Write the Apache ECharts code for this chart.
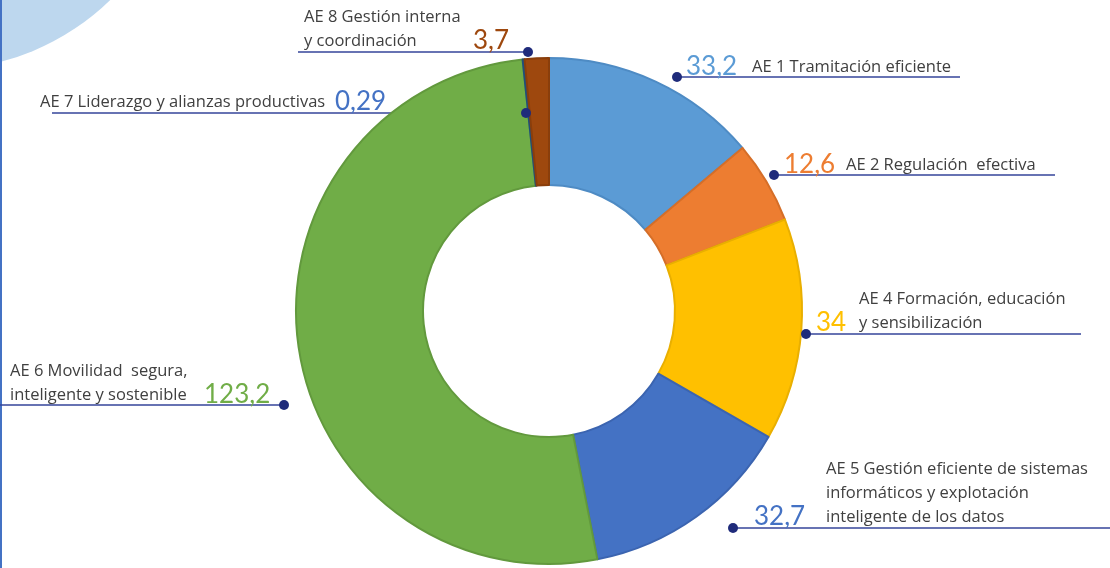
<!DOCTYPE html>
<html>
<head>
<meta charset="utf-8">
<script src="https://cdn.jsdelivr.net/npm/echarts@6/dist/echarts.min.js"></script>
<style>
  html, body { margin: 0; padding: 0; background: #fff; }
  #chartPie { width: 1110px; height: 568px; }
</style>
</head>
<body>
<div id="chartPie"></div>
<script>
    // datos del gráfico
    const categories = ['AE 1 Tramitación eficiente', 'AE 2 Regulación  efectiva', 'AE 4 Formación, educación y sensibilización',
        'AE 5 Gestión eficiente de sistemas informáticos y explotación inteligente de los datos',
        'AE 6 Movilidad  segura, inteligente y sostenible', 'AE 7 Liderazgo y alianzas productivas', 'AE 8 Gestión interna y coordinación'];
    const values = [33.2, 12.6, 34, 32.7, 123.2, 0.29, 3.7];
    // cómo se parte cada etiqueta en líneas
    const labelLines = [
        ['AE 1 Tramitación eficiente'],
        ['AE 2 Regulación  efectiva'],
        ['AE 4 Formación, educación', 'y sensibilización'],
        ['AE 5 Gestión eficiente de sistemas', 'informáticos y explotación', 'inteligente de los datos'],
        ['AE 6 Movilidad  segura,', 'inteligente y sostenible'],
        ['AE 7 Liderazgo y alianzas productivas'],
        ['AE 8 Gestión interna', 'y coordinación']
    ];

    const sliceColors = ['#5B9BD5', '#ED7D31', '#FFC000', '#4472C4', '#70AD47', '#255E91', '#9E480E'];
    const borderColors = ['#4E8BC4', '#D56E28', '#E9AF00', '#3B64B0', '#62993D', '#1F4F7C', '#8A3E0B'];
    const valueColors = ['#5B9BD5', '#ED7D31', '#FFC000', '#4472C4', '#70AD47', '#4472C4', '#9E480E'];

    // dónde va cada rótulo: punto, fin de la línea, texto, ancho del valor
    const labelSpots = [
        { dot: [677, 77], end: 960, text: [686, 79], kind: 'before', vw: 66 },
        { dot: [774, 175], end: 1055, text: [784, 177], kind: 'before', vw: 62 },
        { dot: [806, 334], end: 1081, text: [816, 335], kind: 'before', vw: 43 },
        { dot: [733, 528], end: 1110, text: [754, 529], kind: 'before', vw: 72 },
        { dot: [284, 405], end: 0, text: [10, 407], kind: 'after', nw: 194 },
        { dot: [526, 113], end: 52, text: [40, 114], kind: 'after', nw: 295 },
        { dot: [528, 52], end: 298, text: [304, 53], kind: 'after', nw: 169 }
    ];

    const nameFont = '"Open Sans", "Noto Sans", sans-serif';
    const valueFont = 'Lato, "Open Sans", sans-serif';
    const fmt = v => String(v).replace('.', ',');

    function labelText(i) {
        const lines = labelLines[i];
        const spot = labelSpots[i];
        const out = [];
        lines.forEach((line, k) => {
            const last = k === lines.length - 1;
            if (spot.kind === 'before') {
                out.push(last ? '{v|' + fmt(values[i]) + '}{n|' + line + '}' : '{ni|' + line + '}');
            } else {
                out.push(last ? '{nl|' + line + '}{v|' + fmt(values[i]) + '}' : '{n|' + line + '}');
            }
        });
        return out.join('\n');
    }

    const pieData = values.map((v, i) => {
        const spot = labelSpots[i];
        return {
            name: categories[i],
            value: v,
            itemStyle: { color: sliceColors[i], borderColor: borderColors[i] },
            label: {
                formatter: labelText(i),
                rich: {
                    v: { fontFamily: valueFont, fontSize: 26, color: valueColors[i], lineHeight: 24,
                         width: spot.vw || null },
                    n: { fontFamily: nameFont, fontSize: 16.5, color: '#404040', lineHeight: 24 },
                    ni: { fontFamily: nameFont, fontSize: 16.5, color: '#404040', lineHeight: 24, padding: [0, 0, 0, spot.vw || 0] },
                    nl: { fontFamily: nameFont, fontSize: 16.5, color: '#404040', lineHeight: 24, width: spot.nw || null }
                }
            }
        };
    });

    const chartPie = echarts.init(document.getElementById('chartPie'));
    chartPie.setOption({
        animation: false,
        graphic: [
            { type: 'circle', shape: { cx: -62, cy: -177, r: 247 }, style: { fill: '#BDD7EE' }, z: -10 },
            { type: 'rect', shape: { x: 0, y: 0, width: 2, height: 568 }, style: { fill: '#4472C4' } }
        ].concat(labelSpots.map(s => ({
            type: 'circle', shape: { cx: s.dot[0], cy: s.dot[1], r: 5 }, style: { fill: '#1F2B7B' }, z: 100
        }))),
        series: [
            {
                name: 'AE',
                type: 'pie',
                center: [549, 311],
                radius: [126, 253],
                startAngle: 90,
                clockwise: true,
                avoidLabelOverlap: false,
                itemStyle: { borderWidth: 2 },
                label: { show: true, position: 'outside' },
                labelLine: { show: true, lineStyle: { color: '#34449A', width: 1.5 } },
                labelLayout: function (params) {
                    const s = labelSpots[params.dataIndex];
                    return {
                        x: s.text[0],
                        y: s.text[1],
                        align: 'left',
                        verticalAlign: 'bottom',
                        labelLinePoints: [s.dot, [(s.dot[0] + s.end) / 2, s.dot[1]], [s.end, s.dot[1]]]
                    };
                },
                emphasis: { disabled: true },
                data: pieData
            }
        ]
    });
</script>
</body>
</html>
